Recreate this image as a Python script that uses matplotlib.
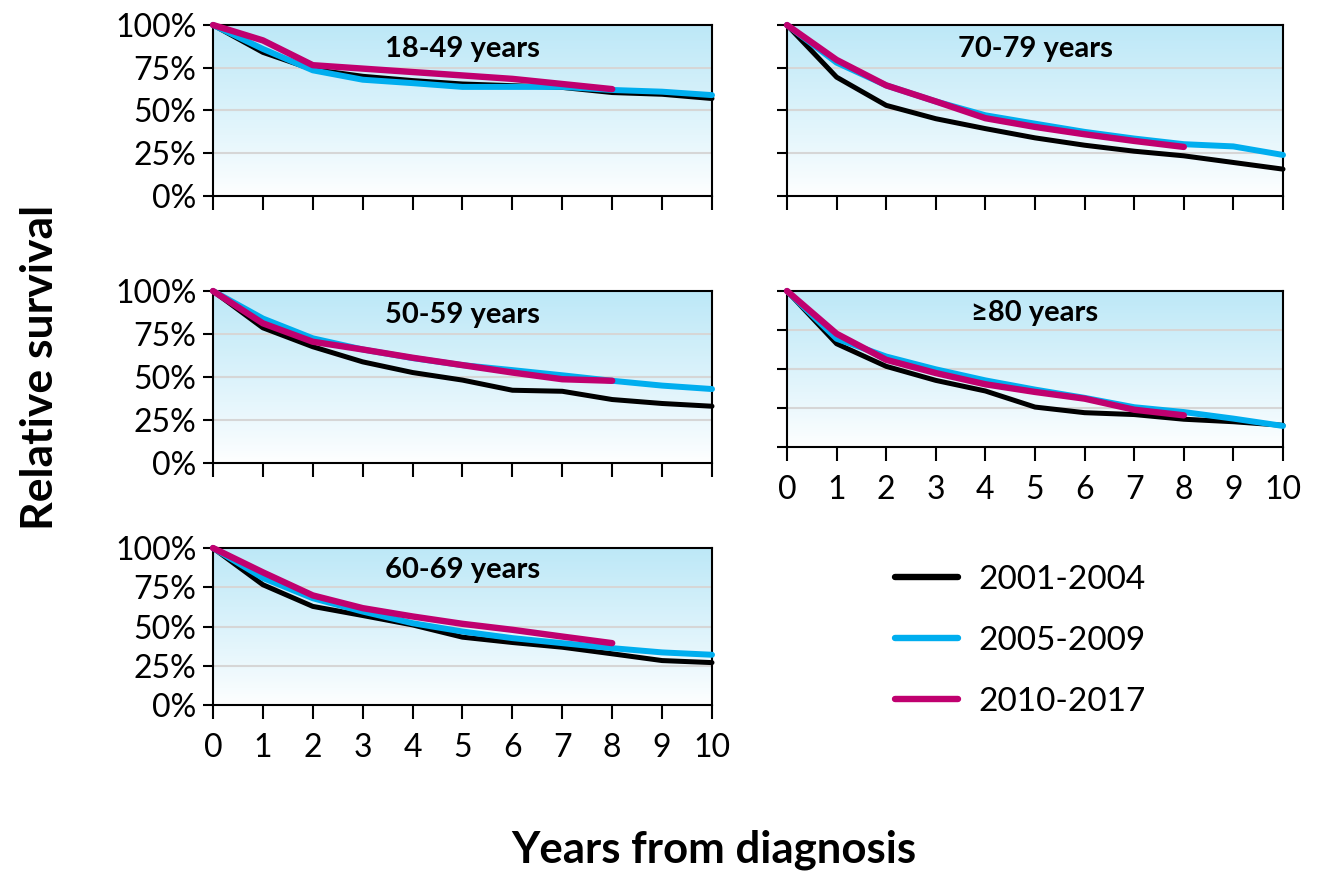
import numpy as np
import matplotlib
matplotlib.use('Agg')
import matplotlib.pyplot as plt

plt.rcParams['font.family'] = ['Lato', 'DejaVu Sans']

years = list(range(11))
periods = ['2001-2004', '2005-2009', '2010-2017']
colors = ['#000000', '#00aeef', '#c0006f']
widths = [3.6, 4.3, 4.6]

# relative survival (%) per age group: 2001-2004, 2005-2009, 2010-2017
s_18_49 = [
    [100, 84, 74, 70, 67.5, 65.5, 64.5, 63.5, 60.5, 59.5, 57],
    [100, 86, 73.5, 68, 66, 63.8, 63.8, 63.8, 62, 61, 59],
    [100, 91, 76.5, 74.5, 72.5, 70.5, 68.5, 65.5, 62.5],
]
s_70_79 = [
    [100, 69.5, 53, 45.2, 39.4, 34, 29.7, 26.2, 23.5, 19.6, 15.7],
    [100, 78, 64.7, 55.3, 47.2, 42.3, 37.5, 33.6, 30.3, 29, 24],
    [100, 79.6, 64.7, 55.3, 45.5, 40.4, 36.1, 32.2, 28.7],
]
s_50_59 = [
    [100, 78.6, 67.6, 58.8, 52.6, 48.2, 42.3, 41.7, 36.9, 34.6, 33],
    [100, 84, 72.5, 66, 61, 56.9, 54, 51, 47.8, 45, 43],
    [100, 81.2, 70.5, 66, 61.2, 56.9, 52.6, 48.7, 47.8],
]
s_80_plus = [
    [100, 66.2, 51.7, 42.7, 35.9, 25.6, 22, 20.8, 17.8, 16.2, 13.9],
    [100, 69.4, 58, 49.8, 42.7, 36.8, 31.5, 25.5, 22.4, 18.2, 13.5],
    [100, 72.6, 55.9, 47.4, 40.2, 35.3, 31, 23.9, 20.3],
]
s_60_69 = [
    [100, 76.6, 62.8, 57, 51, 43.2, 39.8, 36.8, 32.6, 28.3, 27],
    [100, 80.9, 68, 59.5, 52.1, 46.8, 42.6, 39.4, 36.2, 33.5, 32],
    [100, 84.5, 69.8, 61.7, 56.4, 51.7, 47.9, 43.6, 39.4],
]

panels = [
    ('18-49 years', s_18_49, [213, 25, 712, 196], True, False),
    ('70-79 years', s_70_79, [787, 25, 1283, 196], False, False),
    ('50-59 years', s_50_59, [213, 291, 712, 463], True, False),
    ('\u226580 years', s_80_plus, [787, 291, 1283, 447], False, True),
    ('60-69 years', s_60_69, [213, 548, 712, 705], True, True),
]

W, H = 1319, 872
fig = plt.figure(figsize=(W / 100, H / 100), dpi=100)

grad = np.linspace(0, 1, 256).reshape(-1, 1)
top_col = np.array([0.74, 0.91, 0.97])
bot_col = np.array([1.0, 1.0, 1.0])
img = bot_col + (top_col - bot_col) * grad[..., None] ** 0.9
img = img[::-1]

handles = []
for title, data, box, ylabels, xlabels in panels:
    x0, y0, x1, y1 = box
    ax = fig.add_axes([x0 / W, 1 - y1 / H, (x1 - x0) / W, (y1 - y0) / H])
    ax.imshow(img, extent=[0, 1, 0, 1], transform=ax.transAxes,
              aspect='auto', zorder=0)
    for yv in [25, 50, 75]:
        ax.axhline(yv, color='#d6d6d6', lw=1.5, zorder=1)
    hs = []
    for vals, c, lw, lab in zip(data, colors, widths, periods):
        h, = ax.plot(years[:len(vals)], vals, color=c, lw=lw,
                     solid_capstyle='round', clip_on=False, zorder=3, label=lab)
        hs.append(h)
    handles = hs
    ax.set_xlim(0, 10)
    ax.set_ylim(0, 100)
    ax.set_xticks(years)
    ax.set_yticks([0, 25, 50, 75, 100])
    ax.tick_params(axis='y', length=7, width=1.5, direction='out', pad=5)
    ax.tick_params(axis='x', length=10, width=1.5, direction='out', pad=10)
    if ylabels:
        ax.set_yticklabels(['0%', '25%', '50%', '75%', '100%'], fontsize=23)
    else:
        ax.set_yticklabels([])
    if xlabels:
        ax.set_xticklabels([str(y) for y in years], fontsize=23)
    else:
        ax.set_xticklabels([])
    for sp in ax.spines.values():
        sp.set_linewidth(1.5)
    ax.text(0.5, 0.86, title, transform=ax.transAxes, ha='center',
            va='center', fontsize=21, fontweight='bold', zorder=4)

leg = fig.legend(handles, periods, loc='center left',
                 bbox_to_anchor=(878 / W, 1 - 641 / H), frameon=False,
                 fontsize=24, handlelength=1.9, handletextpad=0.6,
                 labelspacing=0.93, borderpad=0)
for ln in leg.get_lines():
    ln.set_linewidth(4.6)

fig.text(40 / W, 1 - 367 / H, 'Relative survival', rotation=90,
         ha='center', va='center', fontsize=32, fontweight='bold')
fig.text(714 / W, 1 - 850 / H, 'Years from diagnosis',
         ha='center', va='center', fontsize=31.5, fontweight='bold')

fig.savefig('out.png', dpi=100)
